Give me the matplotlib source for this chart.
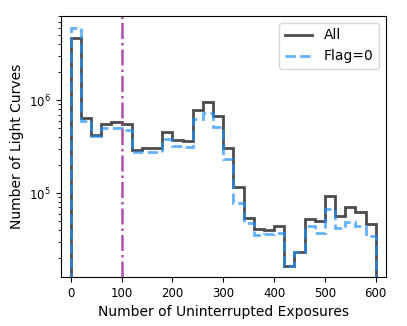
import matplotlib
matplotlib.use('Agg')
import matplotlib.pyplot as plt
from matplotlib.lines import Line2D
import numpy as np

# Histogram bin edges (20-exposure bins from 0 to 600)
edges = np.arange(0, 620, 20)

# Counts per bin
all_counts = [4.71e6, 6.44e5, 4.26e5, 5.6e5, 5.78e5, 5.6e5, 2.93e5, 3.08e5, 3.05e5, 4.5e5,
              3.76e5, 3.6e5, 7.85e5, 9.5e5, 6.77e5, 3.05e5, 1.16e5, 5.43e4, 4.1e4, 4.03e4,
              4.41e4, 1.64e4, 2.29e4, 5.3e4, 5.05e4, 9.3e4, 5.6e4, 7.08e4, 6.2e4, 4.6e4]
flag0_counts = [5.96e6, 5.98e5, 4.11e5, 5.0e5, 5.0e5, 4.74e5, 2.74e5, 2.79e5, 2.74e5, 3.82e5,
                3.2e5, 3.13e5, 6.3e5, 7.3e5, 5.2e5, 2.31e5, 7.77e4, 4.75e4, 3.5e4, 3.6e4,
                3.72e4, 1.64e4, 2.29e4, 4.46e4, 3.72e4, 6.7e4, 4.17e4, 4.84e4, 4.37e4, 3.47e4]

fig, ax = plt.subplots(figsize=(4.07, 3.26), dpi=100)
fig.subplots_adjust(left=0.149, right=0.948, top=0.951, bottom=0.150)

centers = edges[:-1] + 10
ax.hist(centers, bins=edges, weights=all_counts, histtype='step', log=True,
        color='k', alpha=0.7, linewidth=2)
ax.hist(centers, bins=edges, weights=flag0_counts, histtype='step', log=True,
        color='dodgerblue', alpha=0.7, linewidth=2, linestyle='--')

ax.axvline(100, color='#a030a0', alpha=0.85, linestyle='-.', linewidth=1.8)

ax.set_xlim(-20, 620)
ax.set_ylim(1.24e4, 8.1e6)
ax.set_xlabel('Number of Uninterrupted Exposures', fontsize=10)
ax.set_ylabel('Number of Light Curves', fontsize=10)
ax.tick_params(labelsize=8.5)

# legend with line handles instead of patches
handles = [Line2D([], [], color='k', alpha=0.7, lw=2),
           Line2D([], [], color='dodgerblue', alpha=0.7, lw=2, ls='--')]
ax.legend(handles, ['All', 'Flag=0'], loc='upper right', fontsize=10)

fig.savefig('out.png', dpi=100)
